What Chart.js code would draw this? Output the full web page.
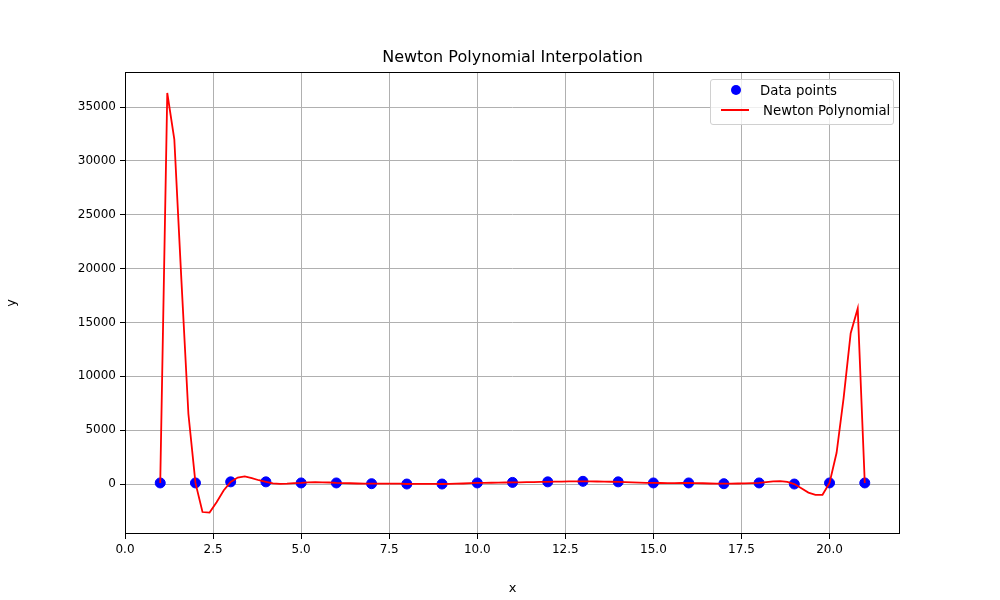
<!DOCTYPE html>
<html><head><meta charset="utf-8">
<script src="https://cdn.jsdelivr.net/npm/chart.js@4"></script>
<style>
body{margin:0;background:#fff;font-family:"DejaVu Sans",sans-serif;}
#wrap{position:relative;width:1000px;height:600px;}
#title{position:absolute;top:47px;left:125px;width:775px;text-align:center;font-size:16px;color:#000;}
#legend{position:absolute;top:79px;left:710px;width:182px;height:44px;border:1px solid #d0d0d0;border-radius:3px;background:rgba(255,255,255,0.8);font-size:13.3px;}
.row{position:absolute;left:10px;height:20px;line-height:20px;}
</style></head><body>
<div id="wrap"><canvas id="c" width="1000" height="600"></canvas>
<div id="title">Newton Polynomial Interpolation</div>
<div id="legend">
 <div class="row" style="top:1px"><span style="display:inline-block;width:10px;height:10px;border-radius:50%;background:#0000ff;margin:0 19px 0 10px;"></span>Data points</div>
 <div class="row" style="top:21px"><span style="display:inline-block;width:28px;height:2px;background:#ff0000;vertical-align:middle;margin:0 14px 0 0;position:relative;top:-1px"></span>Newton Polynomial</div>
</div></div>
<script>
const dataX=[1,2,3,4,5,6,7,8,9,10,11,12,13,14,15,16,17,18,19,20,21];
const dataY=[100,100,200,200,100,100,30,0,0,100,150,200,250,200,100,100,30,100,0,100,100];
const curveStart=1, curveStep=0.2;
const curveY=[100,36300,32000,19000,6500,100,-2600,-2650,-1700,-600,
200,600,700,550,350,200,60,20,40,90,
100,150,170,160,140,100,90,70,50,30,
30,30,40,40,30,0,10,20,20,10,
0,10,30,50,80,100,110,120,130,140,
150,160,170,180,190,200,215,230,240,250,
250,245,235,225,210,200,180,155,130,110,
100,95,90,90,95,100,90,70,50,35,
30,40,50,60,80,100,180,240,260,200,
0,-400,-800,-1000,-1000,100,2900,8000,14000,16300,100];
const xTicks=[0,2.5,5,7.5,10,12.5,15,17.5,20];
const yTicks=[0,5000,10000,15000,20000,25000,30000,35000];
const pts=dataX.map((x,i)=>({x,y:dataY[i]}));
const curve=curveY.map((y,i)=>({x:+(curveStart+i*curveStep).toFixed(1),y}));
const frame={id:'frame',afterDraw(c){const a=c.chartArea,g=c.ctx;g.save();g.strokeStyle='#000';g.lineWidth=1;g.strokeRect(a.left+0.5,a.top+0.5,a.right-a.left-1,a.bottom-a.top-1);g.restore();}};
new Chart(document.getElementById('c'),{
 type:'scatter',
 data:{datasets:[
  {label:'Newton Polynomial',data:curve,showLine:true,borderColor:'#ff0000',borderWidth:1.8,pointRadius:0,tension:0,order:1},
  {label:'Data points',data:pts,backgroundColor:'#0000ff',borderColor:'#0000ff',pointRadius:5,order:2}
 ]},
 options:{responsive:false,animation:false,
  layout:{padding:{top:72,right:100,left:0,bottom:0}},
  plugins:{legend:{display:false},tooltip:{enabled:false}},
  scales:{
   x:{type:'linear',min:0,max:22,afterBuildTicks(s){s.ticks=xTicks.map(v=>({value:v}));},afterFit(s){s.height=66;},
      ticks:{callback:v=>v.toFixed(1),color:'#000',font:{family:'DejaVu Sans',size:12},maxRotation:0,padding:4},
      grid:{color:'#b0b0b0',tickColor:'#000',tickLength:5},border:{display:false},
      title:{display:true,text:'x',color:'#000',font:{family:'DejaVu Sans',size:13},padding:{top:6}}},
   y:{type:'linear',min:-4640,max:38250,afterBuildTicks(s){s.ticks=yTicks.map(v=>({value:v}));},afterFit(s){s.width=125;},
      ticks:{callback:v=>String(v),color:'#000',font:{family:'DejaVu Sans',size:12},padding:4},
      grid:{color:'#b0b0b0',tickColor:'#000',tickLength:5},border:{display:false},
      title:{display:true,text:'y',color:'#000',font:{family:'DejaVu Sans',size:13},padding:{bottom:10}}}
  }},
 plugins:[frame]
});
</script></body></html>
